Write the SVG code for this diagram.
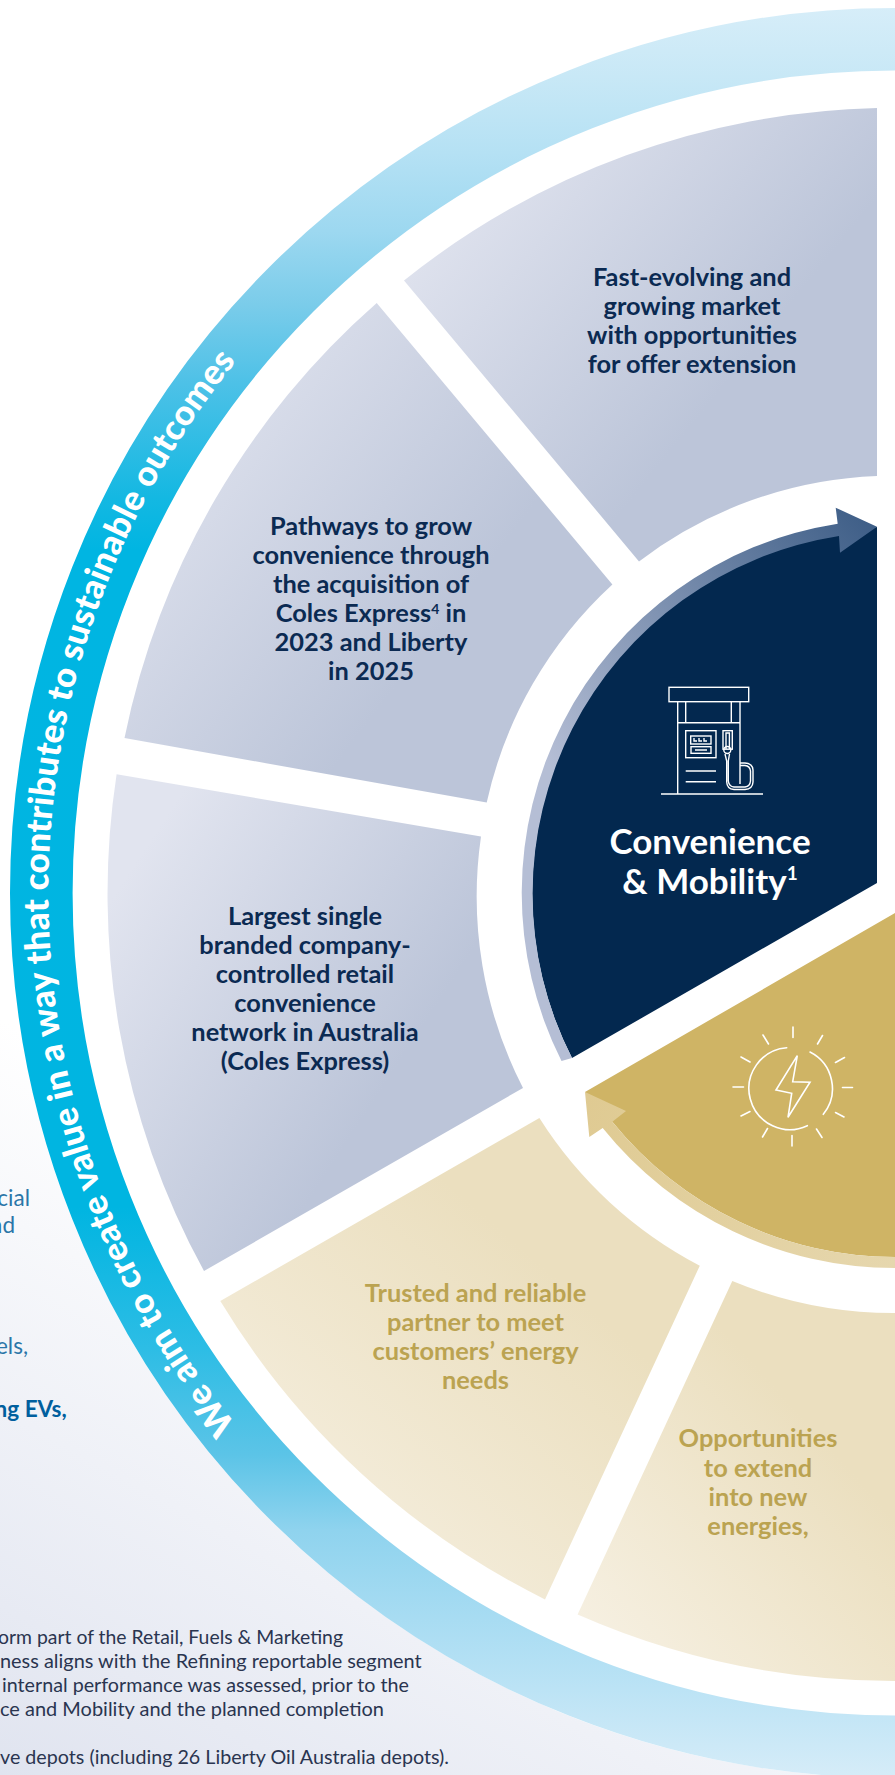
<svg xmlns="http://www.w3.org/2000/svg" width="895" height="1775" viewBox="0 0 895 1775">
<style>
text{font-family:Lato,"Noto Sans",sans-serif}
.b{font-size:25.4px;font-weight:700;fill:#0b2a52;text-anchor:middle}
.g{font-size:25.4px;font-weight:700;fill:#bba351;text-anchor:middle}
.t{font-size:35px;font-weight:700;fill:#fff;text-anchor:middle}
.l{font-size:22.5px;fill:#2a76a8;text-anchor:end}
.lb{font-size:22.5px;font-weight:700;fill:#005f9e;text-anchor:end}
.f{font-size:19.4px;fill:#2a3550}
.r{font-size:35px;font-weight:900;fill:#fff;text-anchor:middle}
.i{fill:none;stroke:#fff;stroke-width:1.4}
.s{fill:none;stroke:#fff;stroke-width:1.6;stroke-linecap:round}
</style>
<defs>
<linearGradient id="bg" gradientUnits="userSpaceOnUse" x1="0" y1="1800" x2="330" y2="1200"><stop offset="0" stop-color="#dfe3ef"/><stop offset="1" stop-color="#fff"/></linearGradient>
<linearGradient id="ring" gradientUnits="userSpaceOnUse" x1="0" y1="0" x2="0" y2="1775">
<stop offset="0" stop-color="#d8eef9"/><stop offset=".043" stop-color="#c8e8f6"/><stop offset=".086" stop-color="#b5e1f4"/><stop offset=".13" stop-color="#9dd8f0"/><stop offset=".172" stop-color="#7accea"/><stop offset=".216" stop-color="#4dc1e7"/><stop offset=".28" stop-color="#14b8e2"/><stop offset=".31" stop-color="#00b5e2"/><stop offset=".68" stop-color="#00b5e1"/><stop offset=".76" stop-color="#2dbde5"/><stop offset=".82" stop-color="#5cc4e7"/><stop offset=".862" stop-color="#8fd3ee"/><stop offset=".935" stop-color="#b3e0f4"/><stop offset="1" stop-color="#d5ecf8"/></linearGradient>
<linearGradient id="sb" x1=".05" y1=".2" x2=".64" y2=".66"><stop offset="0" stop-color="#e1e4ef"/><stop offset="1" stop-color="#bcc5d9"/></linearGradient>
<linearGradient id="sg" x1=".15" y1="1" x2=".72" y2=".35"><stop offset="0" stop-color="#f6f0e2"/><stop offset="1" stop-color="#ebdfbf"/></linearGradient>
<linearGradient id="ab" gradientUnits="userSpaceOnUse" x1="877" y1="527" x2="570" y2="790"><stop offset="0" stop-color="#3e5e87"/><stop offset="1" stop-color="#b5bed5"/></linearGradient>
<linearGradient id="ag" gradientUnits="userSpaceOnUse" x1="585" y1="1100" x2="895" y2="1268"><stop offset="0" stop-color="#dfca92"/><stop offset="1" stop-color="#e6d7ae"/></linearGradient>
<path id="rp" d="M472 1626A846 846 0 0 1 472 160"/>
</defs>
<rect id="background" width="895" height="1775" fill="url(#bg)"/>
<circle cx="895" cy="893" r="885" fill="#fff"/>
<g id="ring-band">
<circle cx="895" cy="893" r="853.7" fill="none" stroke="url(#ring)" stroke-width="62.6"/>
<text class="r"><textPath href="#rp" startOffset="50%" textLength="1150" lengthAdjust="spacing">We aim to create value in a way that contributes to sustainable outcomes</textPath></text>
</g>
<g id="seg-market">
<path fill="url(#sb)" d="M877 108V476A419 419 0 0 0 639 561.4L404 280.5A786 786 0 0 1 877 108Z"/>
<text class="b"><tspan x="692" y="286">Fast-evolving and</tspan><tspan x="692" y="315">growing market</tspan><tspan x="692" y="344">with opportunities</tspan><tspan x="692" y="373">for offer extension</tspan></text>
</g>
<g id="seg-pathways">
<path fill="url(#sb)" d="M376.7 303L612.4 584.4A419 419 0 0 0 486.7 802.6L124.5 738A786 786 0 0 1 376.7 303Z"/>
<text class="b"><tspan x="371" y="534.5">Pathways to grow</tspan><tspan x="371" y="563.5">convenience through</tspan><tspan x="371" y="592.5">the acquisition of</tspan><tspan x="371" y="621.5">Coles Express<tspan font-size="14" dy="-8">4</tspan><tspan dy="8"> in</tspan></tspan><tspan x="371" y="650.5">2023 and Liberty</tspan><tspan x="371" y="679.5">in 2025</tspan></text>
</g>
<g id="seg-largest">
<path fill="url(#sb)" d="M116.6 774.3L481 836.5A419 419 0 0 0 523 1088L204 1271A787 787 0 0 1 116.6 774.3Z"/>
<text class="b"><tspan x="305" y="925">Largest single</tspan><tspan x="305" y="954">branded company-</tspan><tspan x="305" y="983">controlled retail</tspan><tspan x="305" y="1012">convenience</tspan><tspan x="305" y="1041">network in Australia</tspan><tspan x="305" y="1070">(Coles Express)</tspan></text>
</g>
<g id="seg-trusted">
<path fill="url(#sg)" d="M220.3 1301L539.4 1118A421 421 0 0 0 699.8 1265.7L545 1599.4A788 788 0 0 1 220.3 1301Z"/>
<text class="g"><tspan x="475.5" y="1302">Trusted and reliable</tspan><tspan x="475.5" y="1331">partner to meet</tspan><tspan x="475.5" y="1360">customers’ energy</tspan><tspan x="475.5" y="1389">needs</tspan></text>
</g>
<g id="seg-opportunities">
<path fill="url(#sg)" d="M732.3 1281A421 421 0 0 0 895 1313V1681A788 788 0 0 1 577.6 1614.4Z"/>
<text class="g"><tspan x="758" y="1447">Opportunities</tspan><tspan x="758" y="1476.5">to extend</tspan><tspan x="758" y="1506">into new</tspan><tspan x="758" y="1535">energies,</tspan></text>
</g>
<g id="node-convenience">
<path fill="#03284f" d="M877 527V883L572 1058A363 363 0 0 1 839 534Z"/>
<g class="i">
<rect x="669" y="687.3" width="79.7" height="14.4"/>
<path d="M677.7 701.7V722.7M685.7 701.7V722.7M731.3 701.7V722.7M740 701.7V722.7M677.7 722.7H740M677.7 722.7V794M740 722.7V784M661 794H763"/>
<rect x="685.7" y="730.7" width="30.3" height="27"/>
<rect x="690.7" y="736" width="20.3" height="8"/>
<rect x="691" y="746.7" width="20" height="6.6"/>
<path d="M694 738v3h3M699 738v3h3M704 738v3h3M695 750H707M685.7 771H716M685.7 781.7H716"/>
<rect x="723" y="730.7" width="9.3" height="18.5"/>
<path d="M726 749V733h3.4V749"/>
<circle cx="727.3" cy="750" r="3.5"/>
<path d="M725 754L726.7 761V782Q727 789 734 789.5H745Q752.7 789 753 782V770Q752.7 763.5 745 763H740M729.5 754L728.3 761V781Q729 786.5 734 787H745Q750 786.5 750.5 781V771Q750 766 745 765.5H740"/>
</g>
<text class="t"><tspan x="710" y="854">Convenience</tspan><tspan x="710" y="894">&amp; Mobility<tspan font-size="19" dy="-14">1</tspan></tspan></text>
</g>
<g id="node-energy">
<path fill="#cfb465" d="M895 913V1257A364 364 0 0 1 612.3 1121.7L585 1092Z"/>
<g class="s">
<path d="M786.7 1047.7A41 41 0 1 0 807.3 1125.7M810 1052A41 41 0 0 1 823.3 1114.3"/>
<path d="M793 1027V1037.4M763 1035L768.5 1044M741 1057L750 1062M733 1087H743.5M741 1116L750 1111.5M762.5 1137L767.5 1128.5M792 1146V1135.5M822 1137.5L816.5 1129M844 1117L835.5 1112.5M852.5 1087.5H842.5M844.5 1057.5L835.5 1062.5M822.5 1035.5L817.5 1044"/>
<path d="M797.3 1055.7L792.7 1081.7L810 1082.3L788 1117.3L791.7 1093.3L776 1090Z"/>
</g>
</g>
<g id="connectors">
<path fill="url(#ab)" d="M561.5 1061A374 374 0 0 1 837.7 523.7L835.7 507.7L877 526.7L840 552.7L839 536A362 362 0 0 0 572 1058Z"/>
<path fill="url(#ag)" d="M895 1268A375 375 0 0 1 602.7 1128L589.3 1137L585 1092L626 1111L612.3 1121.7A364 364 0 0 0 895 1257Z"/>
</g>
<g id="side-text">
<text class="l" x="30" y="1206">cial</text>
<text class="l" x="15" y="1232.7">nd</text>
<text class="l" x="28" y="1354">els,</text>
<text class="lb" x="66.7" y="1417">ng EVs,</text>
</g>
<g id="footnotes">
<text class="f" x="-2" y="1644.3" textLength="345" lengthAdjust="spacingAndGlyphs">orm part of the Retail, Fuels &amp; Marketing</text>
<text class="f" x="0" y="1668.3" textLength="421.7" lengthAdjust="spacingAndGlyphs">ness aligns with the Refining reportable segment</text>
<text class="f" x="2" y="1692.3" textLength="407" lengthAdjust="spacingAndGlyphs">internal performance was assessed, prior to the</text>
<text class="f" x="0" y="1716" textLength="384" lengthAdjust="spacingAndGlyphs">ce and Mobility and the planned completion</text>
<text class="f" x="0" y="1764" textLength="449" lengthAdjust="spacingAndGlyphs">ve depots (including 26 Liberty Oil Australia depots).</text>
</g>
</svg>
